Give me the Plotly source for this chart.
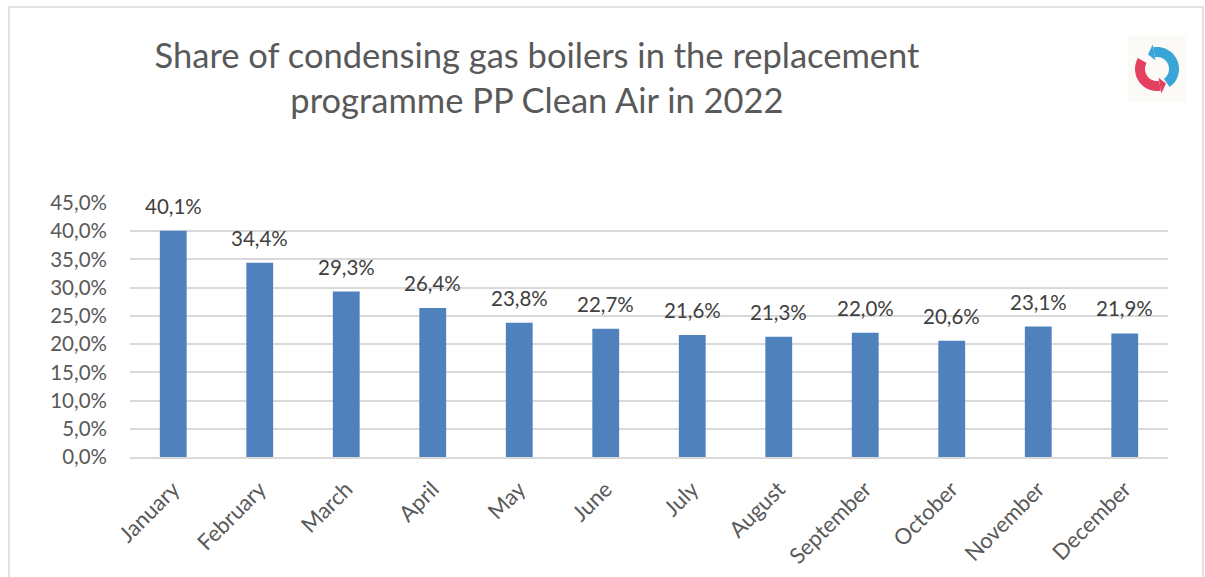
import numpy as np
import plotly.graph_objects as go

months = ["January", "February", "March", "April", "May", "June", "July",
          "August", "September", "October", "November", "December"]
share = [40.1, 34.4, 29.3, 26.4, 23.8, 22.7, 21.6, 21.3, 22.0, 20.6, 23.1, 21.9]
y_ticks = [0, 5, 10, 15, 20, 25, 30, 35, 40, 45]
y_tick_text = [f"{v:.1f}%".replace(".", ",") for v in y_ticks]

W, H = 1205, 577
L, R, T, B = 130, 1168, 203, 457


def px(x):
    return (x - L) / (R - L)


def py(y):
    return (B - y) / (B - T)


def polar(cx, cy, r, ang):
    t = np.radians(ang)
    return cx + r * np.cos(t), cy - r * np.sin(t)


def arc_path(cx, cy, r_out, r_in, a0, a1, n=40):
    a = np.linspace(a0, a1, n)
    pts = [polar(cx, cy, r_out, t) for t in a] + [polar(cx, cy, r_in, t) for t in a[::-1]]
    return "M " + " L ".join(f"{px(x):.5f},{py(y):.5f}" for x, y in pts) + " Z"


def head_path(cx, cy, r_out, r_in, a_base, a_tip):
    rm = (r_out + r_in) / 2
    pts = [polar(cx, cy, r_out + 3, a_base), polar(cx, cy, rm, a_tip), polar(cx, cy, r_in - 3, a_base)]
    return "M " + " L ".join(f"{px(x):.5f},{py(y):.5f}" for x, y in pts) + " Z"


fig = go.Figure(go.Bar(
    x=months, y=share, marker=dict(color="#4F81BD", line=dict(width=0)),
    width=0.31, hoverinfo="skip",
))

for m, v in zip(months, share):
    fig.add_annotation(x=m, y=v, text=f"{v:.1f}%".replace(".", ","), showarrow=False,
                       yanchor="bottom", yshift=11,
                       font=dict(size=20.5, color="#404040", family="Lato"))

cx, cy = 1157, 69
shapes = [
    dict(type="rect", xref="paper", yref="paper", x0=px(9), x1=px(1203), y0=py(7), y1=py(600),
         line=dict(color="#d9d9d9", width=1.5), fillcolor="rgba(0,0,0,0)", layer="below"),
    dict(type="rect", xref="paper", yref="paper", x0=px(1128), x1=px(1186), y0=py(36), y1=py(102),
         line=dict(width=0), fillcolor="#fcfaf6", layer="below"),
    dict(type="path", xref="paper", yref="paper", path=arc_path(cx, cy, 22, 12, 100, -55),
         line=dict(width=0), fillcolor="#3aa6d8"),
    dict(type="path", xref="paper", yref="paper", path=head_path(cx, cy, 22, 12, 100, 122),
         line=dict(width=0), fillcolor="#3aa6d8"),
    dict(type="path", xref="paper", yref="paper", path=arc_path(cx, cy, 22, 12, 150, 280),
         line=dict(width=0), fillcolor="#e4405f"),
    dict(type="path", xref="paper", yref="paper", path=head_path(cx, cy, 22, 12, 280, 302),
         line=dict(width=0), fillcolor="#e4405f"),
]

fig.update_layout(
    width=W, height=H,
    margin=dict(l=L, r=W - R, t=T, b=H - B, autoexpand=False),
    paper_bgcolor="white", plot_bgcolor="white",
    font=dict(family="Lato", color="#595959"),
    title=dict(text="Share of condensing gas boilers in the replacement<br>programme PP Clean Air in 2022",
               x=537 / W, xanchor="center", y=1 - 68 / H, yanchor="middle",
               font=dict(size=34.5, color="#595959", family="Lato")),
    showlegend=False,
    shapes=shapes,
    xaxis=dict(showgrid=False, tickangle=-45, tickfont=dict(size=22, color="#595959"),
               showline=True, linecolor="#d9d9d9", linewidth=1.5, ticks="", fixedrange=True,
               ticklabelstandoff=9, automargin=False),
    yaxis=dict(range=[0, 45], tickvals=y_ticks, ticktext=y_tick_text,
               showgrid=True, gridcolor="#d9d9d9", gridwidth=1.5, zeroline=False,
               showline=False, ticks="", tickfont=dict(size=20.5, color="#595959"),
               ticklabelstandoff=22, fixedrange=True, automargin=False),
)

fig.write_html("out.html", post_script="document.body.style.margin='0';",
               config={"displayModeBar": False})
